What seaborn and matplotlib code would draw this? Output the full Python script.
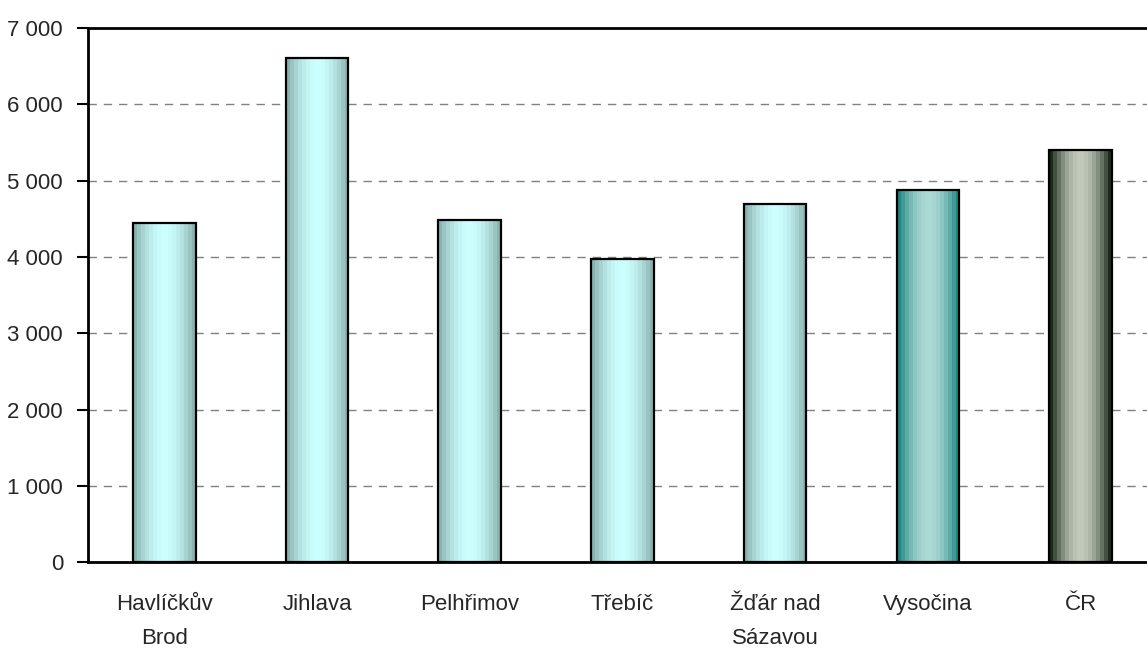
import numpy as np
import pandas as pd
import matplotlib
matplotlib.use("Agg")
import matplotlib.pyplot as plt
import matplotlib.colors as mcolors
from matplotlib.ticker import FuncFormatter
import seaborn as sns

# data
okresy = ["Havlíčkův\nBrod", "Jihlava", "Pelhřimov", "Třebíč",
          "Žďár nad\nSázavou", "Vysočina", "ČR"]
hodnoty = [4450, 6610, 4480, 3980, 4690, 4880, 5400]
# gradient (edge, centre) colours per bar
okraj = ["#8ab2ae"] * 5 + ["#1f8582", "#1c2b1c"]
stred = ["#ccffff"] * 5 + ["#acdad6", "#c2cbbb"]

df = pd.DataFrame({"okres": okresy, "hodnota": hodnoty})

sns.set_style("white")
plt.rcParams["font.family"] = ["Liberation Sans", "DejaVu Sans"]

fig = plt.figure(figsize=(11.47, 6.48), dpi=100)
ax = fig.add_axes([88 / 1147, 85.7 / 648, 7 * 152.7 / 1147, 534.3 / 648])

sns.barplot(data=df, x="okres", y="hodnota", ax=ax, width=0.41,
            color="white", edgecolor="black", linewidth=1.6, zorder=3)

# gradient fill clipped to each bar
x = np.linspace(0, 1, 16)
profil = np.sin(np.pi * x) ** 0.9
for patch, c0, c1 in zip(ax.patches, okraj, stred):
    a = np.array(mcolors.to_rgb(c0))
    b = np.array(mcolors.to_rgb(c1))
    grad = a[None, :] + (b - a)[None, :] * profil[:, None]
    bb = patch.get_bbox()
    im = ax.imshow(grad[None, :, :], extent=[bb.x0, bb.x1, bb.y0, bb.y1],
                   aspect="auto", interpolation="nearest", zorder=2)
    im.set_clip_path(patch)
    patch.set_facecolor("none")

ax.set_xlim(-0.5, 6.5)
ax.set_ylim(0, 7000)
ax.set_yticks(range(0, 7001, 1000))
ax.yaxis.set_major_formatter(FuncFormatter(lambda v, p: f"{int(v):,}".replace(",", " ")))
ax.set_xticks(range(7))
ax.set_xticklabels(okresy, fontsize=16, linespacing=1.8)
ax.set_xticks(np.arange(-0.5, 7, 1), minor=True)
ax.tick_params(axis="x", which="major", length=0, pad=23)
ax.tick_params(axis="x", which="minor", length=8, width=1.5, color="black", direction="out")
ax.tick_params(axis="y", labelsize=16, length=8, width=1.5, color="black",
               direction="out", left=True, pad=10)
ax.yaxis.grid(True, linestyle=(0, (6, 5)), color="#808080", linewidth=1)
ax.set_axisbelow(True)
ax.set_xlabel("")
ax.set_ylabel("")
for s in ["left", "bottom", "top"]:
    ax.spines[s].set_color("black")
    ax.spines[s].set_linewidth(2)
ax.spines["right"].set_visible(False)

fig.savefig("out.png", dpi=100)
